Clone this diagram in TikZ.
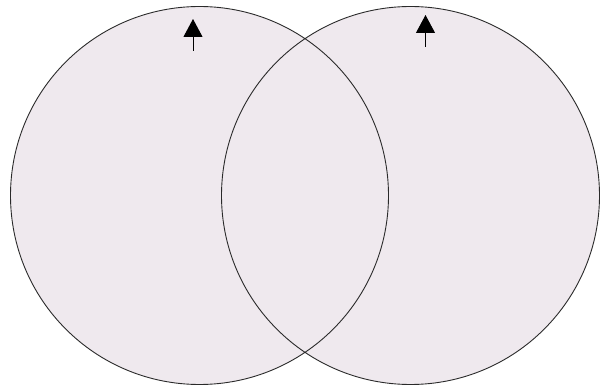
\documentclass[tikz,border=0pt]{standalone}
\usetikzlibrary{arrows.meta}
\definecolor{blobfill}{HTML}{EFE9EE}
\definecolor{blobline}{HTML}{2A2A2A}
\tikzset{
  blobarea/.style={fill=blobfill},
  blobedge/.style={draw=blobline, line width=0.9pt},
  uparrow/.style={draw=black, line width=1pt, -{Triangle[width=19pt,length=18pt]}}
}
\begin{document}
\begin{tikzpicture}[x=1pt,y=-1pt]
\useasboundingbox (0,0) rectangle (606,385);
\coordinate (L) at (199.5,195.5);
\coordinate (R) at (410.5,195.5);
\fill[blobarea] (L) circle[radius=189pt] (R) circle[radius=189pt];
\draw[blobedge] (L) circle[radius=189pt] (R) circle[radius=189pt];
\coordinate (a1s) at (193,51);
\coordinate (a1e) at (193,19);
\coordinate (a2s) at (425.5,47);
\coordinate (a2e) at (425.5,15);
\draw[uparrow] (a1s) -- (a1e);
\draw[uparrow] (a2s) -- (a2e);
\end{tikzpicture}
\end{document}
